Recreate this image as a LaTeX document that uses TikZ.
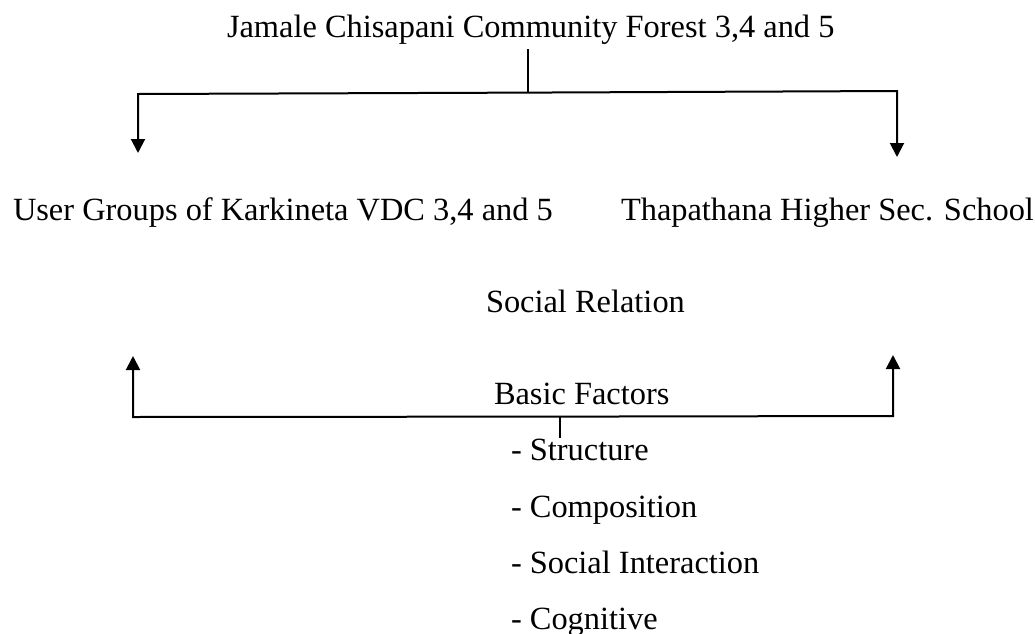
\documentclass[tikz,border=0pt]{standalone}
\usepackage{fontspec}
\setmainfont{Liberation Serif}
\usepackage{tikz}
\usetikzlibrary{arrows.meta, calc}
\newcommand{\diagArrow}{{Triangle[length=7pt, width=7pt]}}

\begin{document}
\begin{tikzpicture}[x=0.5pt, y=-0.5pt, line width=1pt, font=\fontsize{16.2}{19}\selectfont,
	lbl/.style={anchor=base west, inner sep=0pt}]
	\useasboundingbox (0,0) rectangle (1035,633);
	
	\node[lbl] (forest) at (226,37) {Jamale Chisapani Community Forest 3,4 and 5};
	\node[lbl] (users) at (12,220) {User Groups of Karkineta VDC 3,4 and 5};
	\node[lbl] (school) at (620,220) {Thapathana Higher Sec. School};
	\node[lbl] (relation) at (485,312) {Social Relation};
	\node[lbl] (factors) at (493,404) {Basic Factors};
	
	\foreach \name/\y/\txt in {struct/460/Structure, comp/517/Composition, inter/573/Social Interaction, cogn/629/Cognitive} {
		\node[lbl] (\name) at (510,\y) {- \txt};
	}
	
	\coordinate (T1) at (138,94);
	\coordinate (T2) at (897,91);
	\coordinate (T3) at (528,92.6);
	\coordinate (T4) at (528,49);
	\coordinate (B1) at (133,417);
	\coordinate (B2) at (893,416);
	\coordinate (B3) at (560,416.6);
	\coordinate (B4) at (560,438);
	
	\draw		(T4) -- (T3);
	\draw[-\diagArrow]	(T3) -- (T1) -- (T1 |- 0,153) ;
	\draw[-\diagArrow]	(T3) -- (T2) -- (T2 |- 0,157);
	
	\draw		(B4) -- (B3);
	\draw[-\diagArrow]	(B3) -- (B1) -- (B1 |- 0,356);
	\draw[-\diagArrow]	(B3) -- (B2) -- (B2 |- 0,355);
	
\end{tikzpicture}
\end{document}
